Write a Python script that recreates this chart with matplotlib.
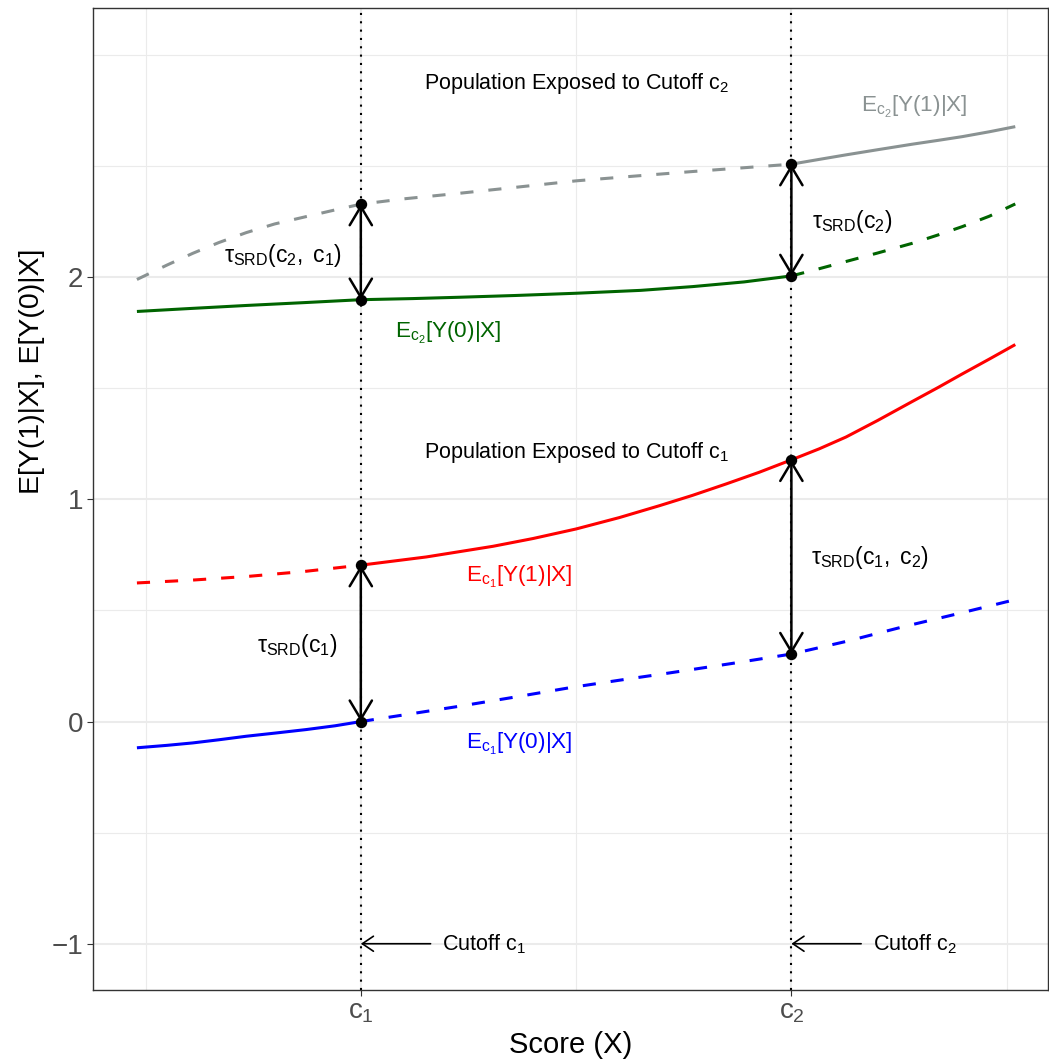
import numpy as np
import matplotlib
matplotlib.use("Agg")
import matplotlib.pyplot as plt

plt.rcParams['font.family'] = ['Liberation Sans', 'DejaVu Sans']
plt.rcParams['mathtext.fontset'] = 'custom'
plt.rcParams['mathtext.rm'] = 'Liberation Sans'
plt.rcParams['mathtext.it'] = 'Liberation Sans'
plt.rcParams['mathtext.sf'] = 'Liberation Sans'
plt.rcParams['mathtext.bf'] = 'Liberation Sans:bold'

# ---------------- data ----------------
c1 = 1.0
c2 = 2.0

x_gray = [0.48, 0.55, 0.61, 0.67, 0.734, 0.80, 0.873, 0.94, 1.0, 1.1, 1.229, 1.36, 1.5,
          1.64, 1.771, 1.89, 2.0, 2.06, 2.127, 2.2, 2.281, 2.34, 2.397, 2.46, 2.52]
y_gray = [1.990, 2.055, 2.108, 2.156, 2.201, 2.240, 2.273, 2.303, 2.329, 2.353, 2.378, 2.405, 2.434,
          2.456, 2.476, 2.493, 2.509, 2.529, 2.551, 2.574, 2.599, 2.616, 2.633, 2.655, 2.678]

x_green = [0.48, 0.6, 0.734, 0.87, 1.0, 1.12, 1.229, 1.36, 1.5, 1.65, 1.771, 1.89, 2.0,
           2.06, 2.127, 2.2, 2.281, 2.34, 2.397, 2.46, 2.52]
y_green = [1.846, 1.859, 1.873, 1.886, 1.899, 1.904, 1.910, 1.918, 1.928, 1.941, 1.958, 1.979, 2.006,
           2.036, 2.071, 2.109, 2.153, 2.190, 2.228, 2.275, 2.330]

x_red = [0.48, 0.61, 0.741, 0.87, 1.0, 1.152, 1.307, 1.4, 1.5, 1.6, 1.694, 1.77, 1.849, 1.925,
         2.0, 2.065, 2.127, 2.2, 2.281, 2.34, 2.397, 2.46, 2.52]
y_red = [0.624, 0.637, 0.654, 0.676, 0.704, 0.741, 0.789, 0.824, 0.867, 0.918, 0.972, 1.018, 1.070, 1.122,
         1.178, 1.228, 1.281, 1.355, 1.441, 1.503, 1.565, 1.632, 1.697]

x_blue = [0.48, 0.55, 0.61, 0.67, 0.734, 0.8, 0.873, 0.94, 1.0, 1.1, 1.229, 1.36, 1.49,
          1.6, 1.717, 1.86, 2.0, 2.13, 2.258, 2.39, 2.52]
y_blue = [-0.118, -0.107, -0.096, -0.082, -0.066, -0.052, -0.036, -0.019, 0.0, 0.030, 0.069, 0.111, 0.154,
          0.186, 0.219, 0.261, 0.304, 0.362, 0.426, 0.487, 0.549]

x_ticks = [c1, c2]
x_ticklabels = ['$c_1$', '$c_2$']
y_ticks = [-1, 0, 1, 2]

col_gray = '#8A9292'
col_green = '#006400'
col_red = '#FF0000'
col_blue = '#0000FF'

# ---------------- figure ----------------
W, H = 1049, 1061
fig = plt.figure(figsize=(W / 100, H / 100), dpi=100)
ax = fig.add_axes([93 / W, (H - 989.5) / H, (1048 - 93) / W, (989.5 - 8) / H])

ax.set_xlim(0.378, 2.596)
ax.set_ylim(-1.206, 3.212)

# grid
for gx in [0.5, 1.5, 2.5]:
    ax.axvline(gx, color='#EBEBEB', lw=0.8, zorder=0)
for gy in [-0.5, 0.5, 1.5, 2.5, 3.0]:
    ax.axhline(gy, color='#EBEBEB', lw=0.8, zorder=0)
for gx in x_ticks:
    ax.axvline(gx, color='#EBEBEB', lw=1.5, zorder=0)
for gy in y_ticks:
    ax.axhline(gy, color='#EBEBEB', lw=1.5, zorder=0)

# cutoff dotted lines
for c in [c1, c2]:
    ax.axvline(c, color='black', lw=1.5, linestyle=(0, (1, 3)), zorder=1)

dash = (0, (4.3, 4.9))
lw = 2.2


def split_plot(xs, ys, cut, left_style, right_style, color):
    xs = np.asarray(xs)
    ys = np.asarray(ys)
    m1 = xs <= cut
    m2 = xs >= cut
    ax.plot(xs[m1], ys[m1], color=color, lw=lw, linestyle=left_style,
            solid_capstyle='butt', dash_capstyle='butt', solid_joinstyle='round', zorder=2)
    ax.plot(xs[m2], ys[m2], color=color, lw=lw, linestyle=right_style,
            solid_capstyle='butt', dash_capstyle='butt', solid_joinstyle='round', zorder=2)


split_plot(x_gray, y_gray, c2, dash, '-', col_gray)
split_plot(x_green, y_green, c2, '-', dash, col_green)
split_plot(x_red, y_red, c1, dash, '-', col_red)
split_plot(x_blue, y_blue, c1, '-', dash, col_blue)


def at(xs, ys, c):
    return float(np.asarray(ys)[np.argmin(np.abs(np.asarray(xs) - c))])


pairs = [
    (c1, at(x_blue, y_blue, c1), at(x_red, y_red, c1)),
    (c1, at(x_green, y_green, c1), at(x_gray, y_gray, c1)),
    (c2, at(x_blue, y_blue, c2), at(x_red, y_red, c2)),
    (c2, at(x_green, y_green, c2), at(x_gray, y_gray, c2)),
]
for xc, ylo, yhi in pairs:
    ax.annotate('', xy=(xc, yhi), xytext=(xc, ylo),
                arrowprops=dict(arrowstyle='<->,head_length=0.67,head_width=0.4',
                                color='black', lw=1.8, shrinkA=0, shrinkB=0,
                                mutation_scale=20), zorder=3)
    ax.plot([xc, xc], [ylo, yhi], 'o', color='black', ms=7.2, zorder=4)

# bottom cutoff arrows
for c in [c1, c2]:
    ax.annotate('', xy=(c, -1), xytext=(c + 0.162, -1),
                arrowprops=dict(arrowstyle='->,head_length=0.4,head_width=0.27',
                                color='black', lw=1.2, shrinkA=0, shrinkB=0,
                                mutation_scale=20), zorder=3)

fs = 15.5
ax.text(1.285, -1.0, 'Cutoff c$_1$', fontsize=fs, ha='center', va='center')
ax.text(2.287, -1.0, 'Cutoff c$_2$', fontsize=fs, ha='center', va='center')

ax.text(1.5, 2.87, 'Population Exposed to Cutoff c$_2$', fontsize=fs, ha='center', va='center')
ax.text(1.5, 1.21, 'Population Exposed to Cutoff c$_1$', fontsize=fs, ha='center', va='center')

lfs = 16.2
ax.text(2.285, 2.767, 'E$_{c_2}$[Y(1)|X]', fontsize=lfs, color=col_gray, ha='center', va='center')
ax.text(1.203, 1.75, 'E$_{c_2}$[Y(0)|X]', fontsize=lfs, color=col_green, ha='center', va='center')
ax.text(1.368, 0.652, 'E$_{c_1}$[Y(1)|X]', fontsize=lfs, color=col_red, ha='center', va='center')
ax.text(1.368, -0.099, 'E$_{c_1}$[Y(0)|X]', fontsize=lfs, color=col_blue, ha='center', va='center')

tfs = 16.5
ax.text(0.818, 2.10, r'$\tau_{SRD}(c_2,\ c_1)$', fontsize=tfs, ha='center', va='center')
ax.text(2.140, 2.249, r'$\tau_{SRD}(c_2)$', fontsize=tfs, ha='center', va='center')
ax.text(0.853, 0.342, r'$\tau_{SRD}(c_1)$', fontsize=tfs, ha='center', va='center')
ax.text(2.182, 0.738, r'$\tau_{SRD}(c_1,\ c_2)$', fontsize=tfs, ha='center', va='center')

# axes styling
ax.set_xticks(x_ticks)
ax.set_xticklabels(x_ticklabels)
ax.set_yticks(y_ticks)
ax.tick_params(axis='both', which='major', labelsize=20, labelcolor='#4D4D4D',
               color='#333333', length=4, width=0.8, pad=3)
for s in ax.spines.values():
    s.set_color('#333333')
    s.set_linewidth(1.0)
ax.set_xlabel('Score (X)', fontsize=21, labelpad=4)
ax.set_ylabel('E[Y(1)|X], E[Y(0)|X]', fontsize=20.5)
ax.yaxis.set_label_coords(-0.0505, 0.630)

fig.savefig('out.png', dpi=100)
